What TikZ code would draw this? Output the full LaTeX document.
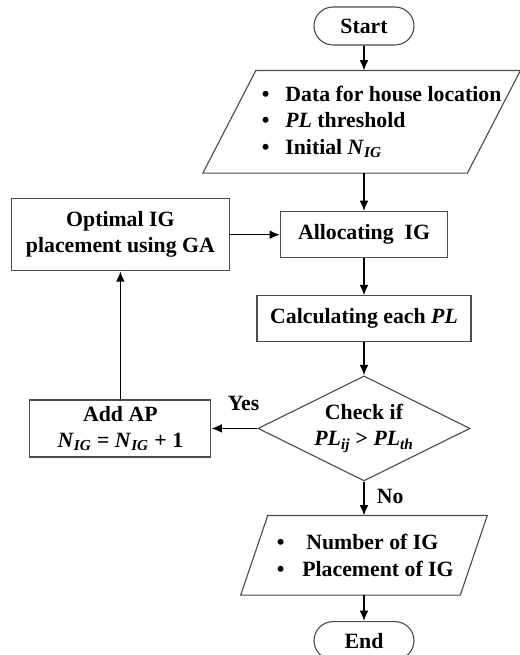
\documentclass[tikz,border=0pt]{standalone}
\usepackage{fontspec}
\setmainfont{Liberation Serif}
\usetikzlibrary{arrows.meta, positioning, shapes.geometric, shapes.misc, calc}

\newcommand{\NIG}{\textit{N}\textsubscript{\textit{IG}}}
\newcommand{\PLsub}[1]{\textit{PL}\textsubscript{\textit{#1}}}

\begin{document}
\begin{tikzpicture}[
    node distance=0.9cm and 1.2cm,
    outline/.style={draw=black!70, line width=0.8pt},
    base/.style={outline, align=center, inner sep=0pt, font=\fontsize{15.5}{18.5}\selectfont\bfseries},
    terminal/.style={base, rounded rectangle, minimum width=2.5cm, minimum height=0.95cm},
    process/.style={base, rectangle, minimum height=1.15cm},
    inout/.style={rectangle, inner sep=0pt},
    decision/.style={base, diamond, aspect=2, minimum width=5.3cm, minimum height=2.625cm},
    arrow/.style={-{Latex[length=2.6mm, width=2.2mm]}, line width=1.1pt},
    txt/.style={align=left, inner sep=0pt, font=\fontsize{15.5}{19}\selectfont\bfseries},
    lbl/.style={inner sep=0pt, font=\fontsize{15.5}{18.5}\selectfont\bfseries}
]
    \useasboundingbox (0,0) rectangle (13,-16.375);

    % Main column
    \node[terminal] (start) at (9.1,-0.65) {Start};

    \node[inout, below=0.625cm of start, xshift=-0.06cm, minimum width=7.925cm, minimum height=2.55cm] (data) {};
    \draw[outline] ([xshift=1.325cm]data.north west) -- (data.north east)
        -- ([xshift=-1.325cm]data.south east) -- (data.south west) -- cycle;
    \node[txt] (datatext) at ($(data.center)+(0.5,0)$)
        {\textbullet\hspace{0.4cm}Data for house location\\
         \textbullet\hspace{0.4cm}\textit{PL} threshold\\
         \textbullet\hspace{0.4cm}Initial \NIG};

    \node[process, below=0.95cm of data.south -| start, anchor=north, minimum width=4.175cm] (alloc) {Allocating~~IG};

    \node[process, below=0.925cm of alloc, minimum width=5.35cm] (calc) {Calculating each \textit{PL}};

    \node[decision, below=0.825cm of calc] (check) {Check if\\\PLsub{ij} > \PLsub{th}};

    \node[inout, below=0.85cm of check, minimum width=6.15cm, minimum height=1.975cm] (result) {};
    \draw[outline] ([xshift=0.675cm]result.north west) -- (result.north east)
        -- ([xshift=-0.675cm]result.south east) -- (result.south west) -- cycle;
    \node[txt] (resulttext) at ($(result.center)+(0.03,0)$)
        {\textbullet\hspace{0.55cm}Number of IG\\
         \textbullet\hspace{0.45cm}Placement of IG};

    \node[terminal, below=0.65cm of result] (end) {End};

    % Loop column
    \node[process, left=1.25cm of alloc, minimum width=5.45cm, minimum height=1.8cm] (optimal)
        {Optimal IG\\placement using GA};
    \node[process, left=1.15cm of check, minimum width=4.525cm, minimum height=1.425cm] (addap)
        {Add AP\\\NIG{} = \NIG{} + 1};

    % Arrows
    \draw[arrow] (start) -- (start |- data.north);
    \draw[arrow] (start |- data.south) -- (alloc);
    \draw[arrow] (alloc) -- (calc);
    \draw[arrow] (calc) -- (check);
    \draw[arrow] (check) -- node[lbl, pos=0.3, above=0.42cm] (yes) {Yes} (addap);
    \draw[arrow] (check) -- node[lbl, pos=0.45, right=0.3cm] (no) {No} (result);
    \draw[arrow] (result) -- (end);
    \draw[arrow] (addap.north) -- (addap.north |- optimal.south);
    \draw[arrow] (optimal) -- (alloc);

\end{tikzpicture}
\end{document}
